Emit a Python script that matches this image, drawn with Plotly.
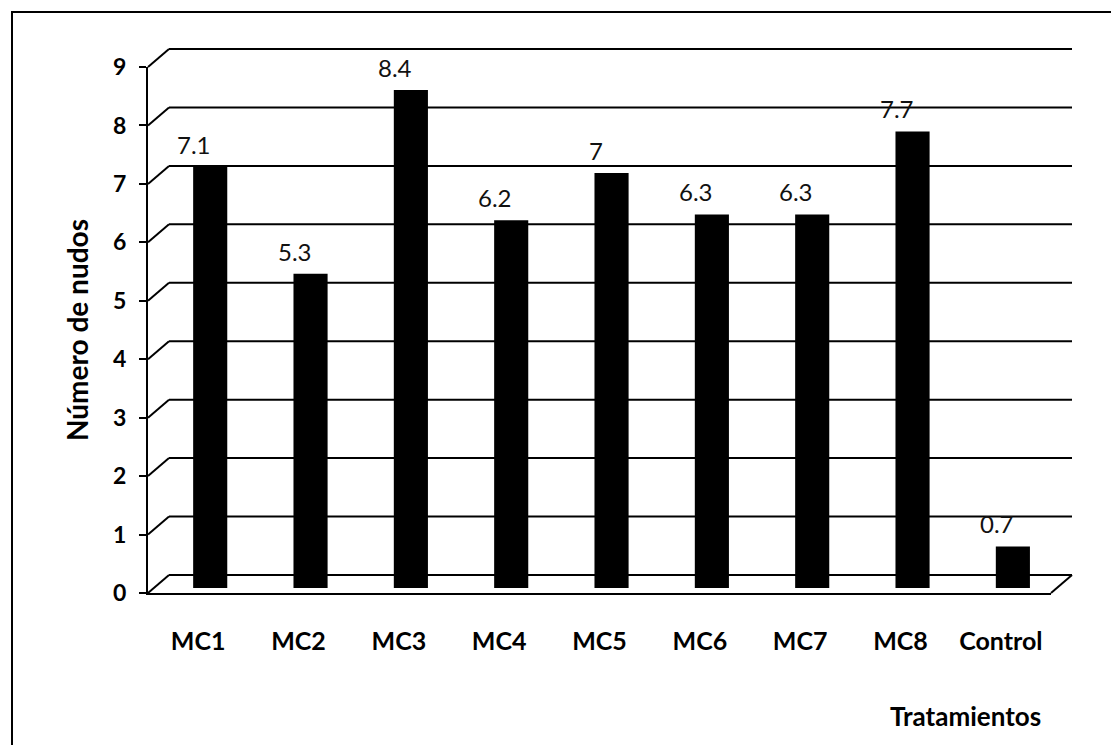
import plotly.graph_objects as go

# Data
tratamientos = ["MC1", "MC2", "MC3", "MC4", "MC5", "MC6", "MC7", "MC8", "Control"]
nudos = [7.1, 5.3, 8.4, 6.2, 7.0, 6.3, 6.3, 7.7, 0.7]
y_ticks = list(range(0, 10))
value_text = ["7.1", "5.3", "8.4", "6.2", "7", "6.3", "6.3", "7.7", "0.7"]

W, H = 1111, 745
ML, MR, MT, MB = 148, 60, 67, 152
PW = W - ML - MR
PH = H - MT - MB
Y_MAX = 9

FONT = "Lato, 'Open Sans', sans-serif"
DX, DY = 21, 18  # depth offset of the back wall (pixels)
BAR_LIFT = 5     # bars stand slightly behind the front edge of the floor

fig = go.Figure()

# Keeps the front value axis (x / y) attached to the data
fig.add_trace(go.Scatter(
    x=tratamientos, y=nudos, mode="none",
    showlegend=False, hoverinfo="skip",
))

fig.add_trace(go.Bar(
    x=tratamientos,
    y=nudos,
    yaxis="y2",
    width=0.34,
    offset=-0.05,
    marker=dict(color="#000000", line=dict(width=0)),
    hoverinfo="x+y",
))

# Value labels above each bar
annotations = []
for cat, val, txt in zip(tratamientos, nudos, value_text):
    annotations.append(dict(
        x=cat, y=val, xref="x", yref="y2", text=txt,
        xshift=-4, yshift=6, yanchor="bottom", xanchor="center",
        showarrow=False,
        font=dict(family=FONT, size=24, color="#111111"),
    ))

annotations.append(dict(
    text="Tratamientos", xref="paper", yref="paper",
    x=(965 - ML) / PW, y=(MT + PH - 716) / PH,
    xanchor="center", yanchor="middle", showarrow=False,
    font=dict(family=FONT, size=26, color="#000", weight="bold"),
))

shapes = []
# Back wall gridlines with their diagonal joins to the value axis
for k in y_ticks:
    yp = k / Y_MAX
    shapes.append(dict(type="line", xref="paper", yref="paper",
                       xsizemode="pixel", ysizemode="pixel",
                       xanchor=0, yanchor=yp,
                       x0=0, x1=DX, y0=0, y1=DY,
                       line=dict(color="#000", width=2)))
    shapes.append(dict(type="line", xref="paper", yref="paper",
                       ysizemode="pixel", yanchor=yp,
                       x0=DX / PW, x1=1 + DX / PW, y0=DY, y1=DY,
                       line=dict(color="#000", width=2)))
# Right edge of the floor
shapes.append(dict(type="line", xref="paper", yref="paper",
                   xsizemode="pixel", ysizemode="pixel",
                   xanchor=1, yanchor=0,
                   x0=0, x1=DX, y0=0, y1=DY,
                   line=dict(color="#000", width=2)))
# Chart frame
shapes.append(dict(type="rect", xref="paper", yref="paper",
                   x0=(12 - ML) / PW, x1=(W + 20 - ML) / PW,
                   y0=(MT + PH - (H + 20)) / PH, y1=(MT + PH - 12) / PH,
                   line=dict(color="#000", width=2), fillcolor="rgba(0,0,0,0)"))

# Bars are measured on a plane slightly raised above the front axis
bar_scale = 59.3  # pixels per unit on the bar plane
fig.update_layout(
    width=W, height=H,
    margin=dict(l=ML, r=MR, t=MT, b=MB),
    paper_bgcolor="white", plot_bgcolor="white",
    showlegend=False,
    shapes=shapes,
    annotations=annotations,
    xaxis=dict(
        type="category", range=[-0.5, 8.5], anchor="y",
        showgrid=False, showline=True, linecolor="#000", linewidth=2,
        ticks="", ticklabelstandoff=25,
        tickfont=dict(family=FONT, size=25, color="#000", weight="bold"),
        zeroline=False,
    ),
    yaxis=dict(
        range=[0, Y_MAX], tickvals=y_ticks, anchor="x",
        showgrid=False, showline=True, linecolor="#000", linewidth=2,
        ticks="outside", ticklen=7, tickwidth=2, tickcolor="#000",
        ticklabelstandoff=8,
        tickfont=dict(family=FONT, size=23, color="#000", weight="bold"),
        zeroline=False,
        title=dict(text="Número de nudos", standoff=16,
                   font=dict(family=FONT, size=28, color="#000", weight="bold")),
    ),
    yaxis2=dict(
        anchor="x", domain=[BAR_LIFT / PH, 1],
        range=[0, (PH - BAR_LIFT) / bar_scale],
        visible=False,
    ),
)

fig.write_html("out.html")
